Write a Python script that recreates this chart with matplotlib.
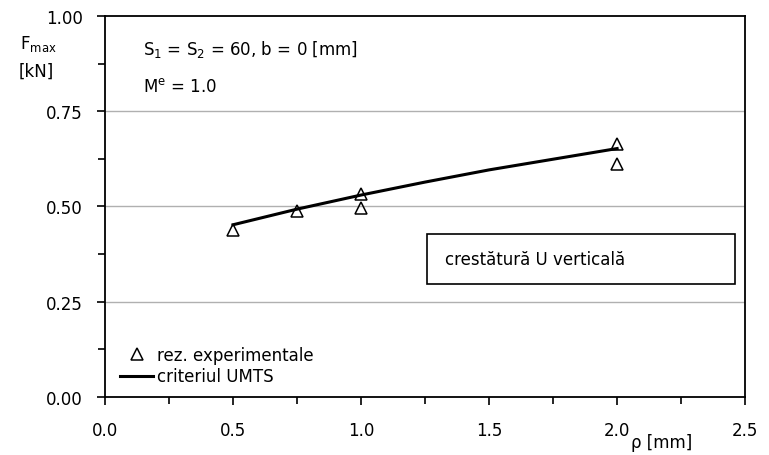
import numpy as np
import matplotlib.pyplot as plt
from matplotlib.ticker import MultipleLocator, FormatStrFormatter
from matplotlib.lines import Line2D
from matplotlib.patches import Rectangle

plt.rcParams.update({
    "font.family": "DejaVu Sans",
    "font.size": 12,
})

# experimental results
rho_exp = [0.5, 0.75, 1.0, 1.0, 2.0, 2.0]
f_exp = [0.437, 0.487, 0.533, 0.497, 0.664, 0.612]

# UMTS criterion curve
rho_crit = [0.5, 0.75, 1.0, 1.25, 1.5, 1.75, 2.0]
f_crit = [0.452, 0.493, 0.530, 0.564, 0.596, 0.624, 0.652]

fig = plt.figure(figsize=(7.69, 4.56), dpi=100)
ax = fig.add_axes([0.1365, 0.127, 0.8325, 0.836])

ax.plot(rho_crit, f_crit, color="black", lw=2.2, zorder=3)
ax.plot(rho_exp, f_exp, linestyle="none", marker="^", markersize=9,
        markerfacecolor="none", markeredgecolor="black", markeredgewidth=1.1,
        zorder=4)

ax.set_xlim(0, 2.5)
ax.set_ylim(0, 1.0)
ax.xaxis.set_major_locator(MultipleLocator(0.5))
ax.xaxis.set_minor_locator(MultipleLocator(0.25))
ax.yaxis.set_major_locator(MultipleLocator(0.25))
ax.yaxis.set_minor_locator(MultipleLocator(0.125))
ax.xaxis.set_major_formatter(FormatStrFormatter("%.1f"))
ax.yaxis.set_major_formatter(FormatStrFormatter("%.2f"))
ax.tick_params(which="both", direction="out", width=1.2, color="black",
               labelsize=12)
ax.tick_params(which="major", length=6)
ax.tick_params(which="minor", length=5)
ax.tick_params(axis="x", pad=11)
ax.tick_params(axis="y", pad=10)

for y in [0.25, 0.5, 0.75]:
    ax.axhline(y, color="#b0b0b0", lw=1.0, zorder=1)

for s in ax.spines.values():
    s.set_linewidth(1.3)

# axis labels
ax.text(-0.133, 0.93, "F$_{\\mathrm{max}}$", transform=ax.transAxes,
        ha="left", va="center", fontsize=12)
ax.text(-0.135, 0.855, "[kN]", transform=ax.transAxes,
        ha="left", va="center", fontsize=12)
ax.text(0.822, -0.118, "ρ [mm]", transform=ax.transAxes,
        ha="left", va="center", fontsize=12)

# annotations
ax.text(0.06, 0.915, "S$_1$ = S$_2$ = 60, b = 0 [mm]", transform=ax.transAxes,
        ha="left", va="center", fontsize=12)
ax.text(0.06, 0.815, "M$^{\\mathrm{e}}$ = 1.0", transform=ax.transAxes,
        ha="left", va="center", fontsize=12)

ax.add_patch(Rectangle((0.503, 0.297), 0.481, 0.131, transform=ax.transAxes,
                       facecolor="white", edgecolor="black", lw=1.2, zorder=5))
ax.text(0.531, 0.362, "crestătură U verticală", transform=ax.transAxes,
        ha="left", va="center", fontsize=12, zorder=6)

handles = [
    Line2D([], [], linestyle="none", marker="^", markersize=9,
           markerfacecolor="none", markeredgecolor="black", markeredgewidth=1.1),
    Line2D([], [], color="black", lw=2.2),
]
ax.legend(handles, ["rez. experimentale", "criteriul UMTS"],
          loc="lower left", bbox_to_anchor=(0.005, 0.0), frameon=False,
          handlelength=2.0, handletextpad=0.25, labelspacing=0.2,
          fontsize=12, borderaxespad=0.3)

fig.savefig("out.png", dpi=100, facecolor="white")
